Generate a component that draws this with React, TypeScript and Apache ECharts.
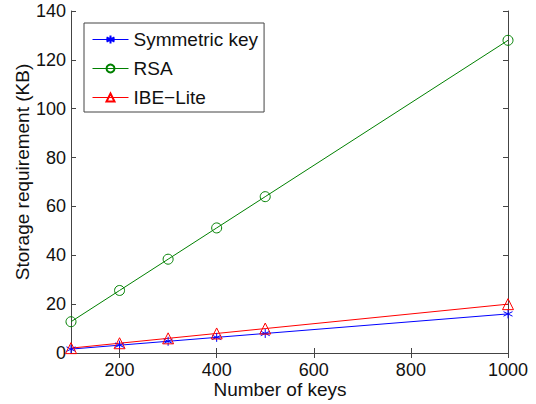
import React, { useEffect, useRef } from "react";
import * as echarts from "echarts";

const keys = [100, 200, 300, 400, 500, 1000];
const symmetricKey = [1.6, 3.2, 4.8, 6.4, 8, 16];
const rsa = [12.8, 25.6, 38.4, 51.2, 64, 128];
const ibeLite = [2, 4, 6, 8, 10, 20];
const xTicks = [200, 400, 600, 800, 1000];
const seriesNames = ["Symmetric key", "RSA", "IBE\u2212Lite"];
const xTitle = "Number of keys";
const yTitle = "Storage requirement (KB)";

const FONT = "'Liberation Sans', Arial, Helvetica, sans-serif";
const AXIS = "#444";
const star = "path://M0,-10L0,10M-8.66,-5L8.66,5M-8.66,5L8.66,-5";

export default function App() {
  const ref = useRef<HTMLDivElement>(null);
  useEffect(() => {
    const chart = echarts.init(ref.current!, null, { renderer: "svg" });
    const pair = (ys: number[]) => keys.map((x, i) => [x, ys[i]]);
    const mk = (name: string, ys: number[], color: string, symbol: string, size: number) => ({
      name,
      type: "line",
      data: pair(ys),
      symbol,
      symbolSize: size,
      showAllSymbol: true,
      lineStyle: { color, width: 1 },
      itemStyle: { color: "none", borderColor: color, borderWidth: 1 },
      emphasis: { disabled: true },
    });
    chart.setOption({
      animation: false,
      textStyle: { fontFamily: FONT },
      grid: { left: 71, right: 28, top: 11, bottom: 51 },
      graphic: [
        {
          type: "text",
          x: 280,
          y: 389,
          style: {
            text: xTitle,
            fontSize: 19,
            fontFamily: FONT,
            fill: "#111",
            align: "center",
            verticalAlign: "middle",
          },
        },
        {
          type: "text",
          x: 22,
          y: 172,
          rotation: Math.PI / 2,
          style: {
            text: yTitle,
            fontSize: 19,
            fontFamily: FONT,
            fill: "#111",
            align: "center",
            verticalAlign: "middle",
          },
        },
      ],
      legend: {
        left: 84,
        top: 23,
        orient: "vertical",
        data: seriesNames,
        backgroundColor: "#fff",
        borderColor: AXIS,
        borderWidth: 1,
        borderRadius: 0,
        padding: [7, 6, 5, 8],
        itemWidth: 36,
        itemHeight: 10,
        itemGap: 10,
        lineStyle: { width: 1 },
        textStyle: { fontSize: 19, color: "#111", fontFamily: FONT },
      },
      xAxis: [
        {
          type: "value",
          min: 100,
          max: 1000,
          axisLine: { lineStyle: { color: AXIS } },
          axisTick: { inside: true, length: 5, customValues: xTicks, lineStyle: { color: AXIS } },
          axisLabel: {
            customValues: xTicks,
            fontSize: 18,
            color: "#111",
            margin: 8,
            formatter: (v: number) => String(v),
          },
          splitLine: { show: false },
        },
        {
          type: "value",
          position: "top",
          min: 100,
          max: 1000,
          axisLine: { show: true, lineStyle: { color: AXIS } },
          axisTick: { inside: true, length: 5, customValues: xTicks, lineStyle: { color: AXIS } },
          axisLabel: { show: false },
          splitLine: { show: false },
        },
      ],
      yAxis: [
        {
          type: "value",
          min: 0,
          max: 140,
          interval: 20,
          axisLine: { show: true, lineStyle: { color: AXIS } },
          axisTick: { inside: true, length: 5, lineStyle: { color: AXIS } },
          axisLabel: { fontSize: 18, color: "#111", margin: 5 },
          splitLine: { show: false },
        },
        {
          type: "value",
          position: "right",
          min: 0,
          max: 140,
          interval: 20,
          axisLine: { show: true, lineStyle: { color: AXIS } },
          axisTick: { inside: true, length: 5, lineStyle: { color: AXIS } },
          axisLabel: { show: false },
          splitLine: { show: false },
        },
      ],
      series: [
        mk(seriesNames[0], symmetricKey, "#0000ff", star, 9),
        mk(seriesNames[1], rsa, "#008000", "circle", 10),
        mk(seriesNames[2], ibeLite, "#ff0000", "triangle", 11),
      ],
    });
    return () => chart.dispose();
  }, []);
  return (
    <div
      ref={ref}
      style={{ position: "absolute", left: 0, top: 0, width: 536, height: 404 }}
    />
  );
}
